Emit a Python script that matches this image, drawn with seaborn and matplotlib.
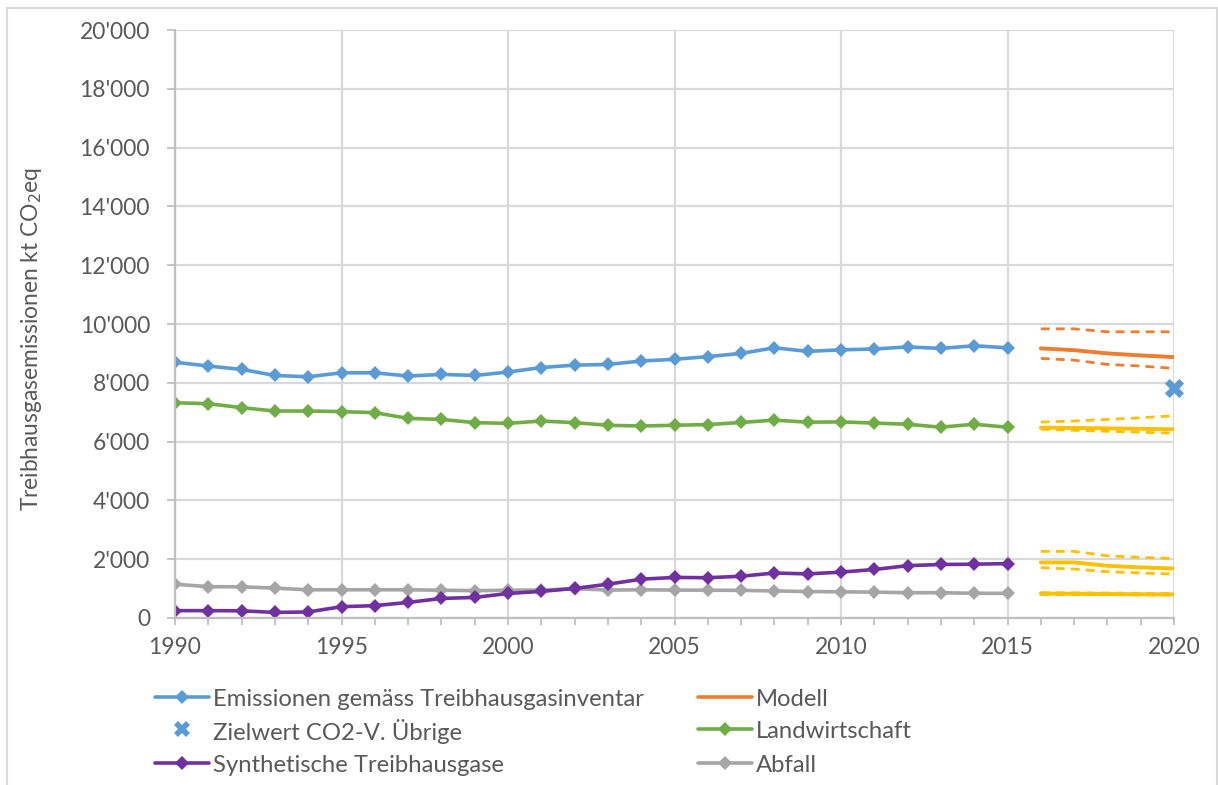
import matplotlib
matplotlib.use("Agg")
import matplotlib.pyplot as plt
import matplotlib.ticker as mticker
from matplotlib.lines import Line2D
from matplotlib.patches import Rectangle
import seaborn as sns

# ── Data ──────────────────────────────────────────────────────────────────────
years = list(range(1990, 2016))
inventar = [8700, 8570, 8455, 8250, 8205, 8340, 8340, 8230, 8285, 8250,
            8365, 8520, 8600, 8625, 8740, 8800, 8890, 9000, 9190, 9070,
            9120, 9150, 9220, 9170, 9260, 9190]
landwirtschaft = [7320, 7290, 7155, 7040, 7040, 7020, 6985, 6790, 6755, 6645,
                  6620, 6700, 6645, 6555, 6530, 6555, 6580, 6650, 6730, 6660,
                  6670, 6630, 6590, 6490, 6590, 6490]
synthetisch = [250, 250, 245, 190, 205, 385, 420, 530, 665, 700,
               835, 905, 1005, 1150, 1320, 1380, 1370, 1420, 1530, 1500,
               1560, 1650, 1780, 1820, 1830, 1850]
abfall = [1150, 1065, 1060, 1015, 960, 960, 960, 960, 945, 930,
          945, 950, 1000, 950, 960, 950, 945, 940, 920, 900,
          890, 880, 860, 860, 840, 840]

proj_years = [2016, 2017, 2018, 2019, 2020]
modell = [9170, 9110, 9000, 8930, 8875]
modell_hi = [9835, 9835, 9735, 9735, 9735]
modell_lo = [8830, 8770, 8625, 8570, 8490]
landw_proj = [6475, 6465, 6450, 6435, 6420]
landw_hi = [6665, 6700, 6755, 6810, 6880]
landw_lo = [6420, 6385, 6350, 6320, 6285]
synth_proj = [1890, 1890, 1775, 1720, 1685]
synth_hi = [2265, 2265, 2115, 2060, 2025]
synth_lo = [1710, 1665, 1575, 1530, 1495]
abfall_proj = [830, 825, 815, 810, 800]
abfall_hi = [860, 855, 850, 840, 835]
abfall_lo = [800, 795, 790, 785, 780]

ziel_year = [2020]
ziel_value = [7830]

legend_col1 = ["Emissionen gemäss Treibhausgasinventar", "Zielwert CO2-V. Übrige",
               "Synthetische Treibhausgase"]
legend_col2 = ["Modell", "Landwirtschaft", "Abfall"]

# ── Style ─────────────────────────────────────────────────────────────────────
sns.set_theme(style="white")
plt.rcParams["font.family"] = ["Lato", "DejaVu Sans"]

BLUE, ORANGE, GREY = "#5B9BD5", "#ED7D31", "#A5A5A5"
YELLOW, GREEN, PURPLE = "#FFC000", "#70AD47", "#7030A0"
TXT = "#595959"
GRID = "#D9D9D9"
FS = 16.4
FS_LEG = 17.2

W, H = 1218, 785
fig = plt.figure(figsize=(W / 100, H / 100), dpi=100)
ax = fig.add_axes([175 / W, 1 - 618 / H, (1174 - 175) / W, (618 - 30) / H])

line_kw = dict(linewidth=2.6, marker="D", markersize=7.5, markeredgewidth=0)
sns.lineplot(x=years, y=inventar, color=BLUE, ax=ax, **line_kw)
sns.lineplot(x=years, y=landwirtschaft, color=GREEN, ax=ax, **line_kw)
sns.lineplot(x=years, y=abfall, color=GREY, ax=ax, **line_kw)
sns.lineplot(x=years, y=synthetisch, color=PURPLE, ax=ax, **line_kw)

dash = (0, (3.2, 2.2))
for mid, hi, lo, col in [(modell, modell_hi, modell_lo, ORANGE),
                         (landw_proj, landw_hi, landw_lo, YELLOW),
                         (synth_proj, synth_hi, synth_lo, YELLOW),
                         (abfall_proj, abfall_hi, abfall_lo, YELLOW)]:
    sns.lineplot(x=proj_years, y=hi, color=col, linewidth=2, ax=ax, linestyle=dash)
    sns.lineplot(x=proj_years, y=lo, color=col, linewidth=2, ax=ax, linestyle=dash)
    sns.lineplot(x=proj_years, y=mid, color=col, linewidth=2.8, ax=ax)

ax.scatter(ziel_year, ziel_value, marker="X", s=190, color=BLUE, linewidths=0,
           zorder=5, clip_on=False)

# ── Axes ──────────────────────────────────────────────────────────────────────
ax.set_xlim(1990, 2020)
ax.set_ylim(0, 20000)
ax.xaxis.set_major_locator(mticker.MultipleLocator(5))
ax.xaxis.set_minor_locator(mticker.MultipleLocator(1))
ax.yaxis.set_major_locator(mticker.MultipleLocator(2000))
ax.yaxis.set_major_formatter(mticker.FuncFormatter(
    lambda v, p: f"{int(v):,}".replace(",", "'")))

ax.grid(True, which="major", color=GRID, linewidth=1.6)
ax.set_axisbelow(True)
for side in ["top", "right"]:
    ax.spines[side].set_visible(False)
for side in ["left", "bottom"]:
    ax.spines[side].set_color("#BFBFBF")
    ax.spines[side].set_linewidth(1.6)

ax.tick_params(axis="x", which="both", direction="out", length=5, width=1.3,
               color="#BFBFBF", labelsize=FS, labelcolor=TXT, pad=9, bottom=True)
ax.tick_params(axis="y", which="major", direction="out", length=6, width=1.3,
               color="#BFBFBF", labelsize=FS, labelcolor=TXT, pad=12, left=True)

ax.set_ylabel("Treibhausgasemissionen kt CO$_2$eq", fontsize=FS, color=TXT)
ax.yaxis.set_label_coords((44 - 175) / 999, 0.475)
ax.set_xlabel("")

# ── Legend (drawn entry by entry for even row spacing) ────────────────────────
col1_handles = [dict(color=BLUE, marker="D", lw=2.6),
                dict(color=BLUE, marker="X", lw=0),
                dict(color=PURPLE, marker="D", lw=2.6)]
col2_handles = [dict(color=ORANGE, marker=None, lw=2.6),
                dict(color=GREEN, marker="D", lw=2.6),
                dict(color=GREY, marker="D", lw=2.6)]
row_y = [697, 729, 763]
for x0, labels, hands in [(155, legend_col1, col1_handles),
                          (698, legend_col2, col2_handles)]:
    for y, lab, h in zip(row_y, labels, hands):
        yf = 1 - y / H
        if h["lw"] > 0:
            fig.add_artist(Line2D([x0 / W, (x0 + 54) / W], [yf, yf],
                                  transform=fig.transFigure, color=h["color"],
                                  lw=h["lw"], solid_capstyle="round"))
        if h["marker"] is not None:
            ms = 12 if h["marker"] == "X" else 7
            fig.add_artist(Line2D([(x0 + 27) / W], [yf], transform=fig.transFigure,
                                  color=h["color"], marker=h["marker"], lw=0,
                                  markersize=ms, mew=0))
        fig.text((x0 + 58) / W, yf, lab, fontsize=FS_LEG, color=TXT,
                 ha="left", va="center_baseline")

# outer frame
fig.patches.append(Rectangle((7 / W, -0.05), 1210 / W, 1.05 - 8 / H,
                             transform=fig.transFigure, fill=False,
                             edgecolor=GRID, linewidth=1.5))

fig.savefig("out.png", dpi=100)
